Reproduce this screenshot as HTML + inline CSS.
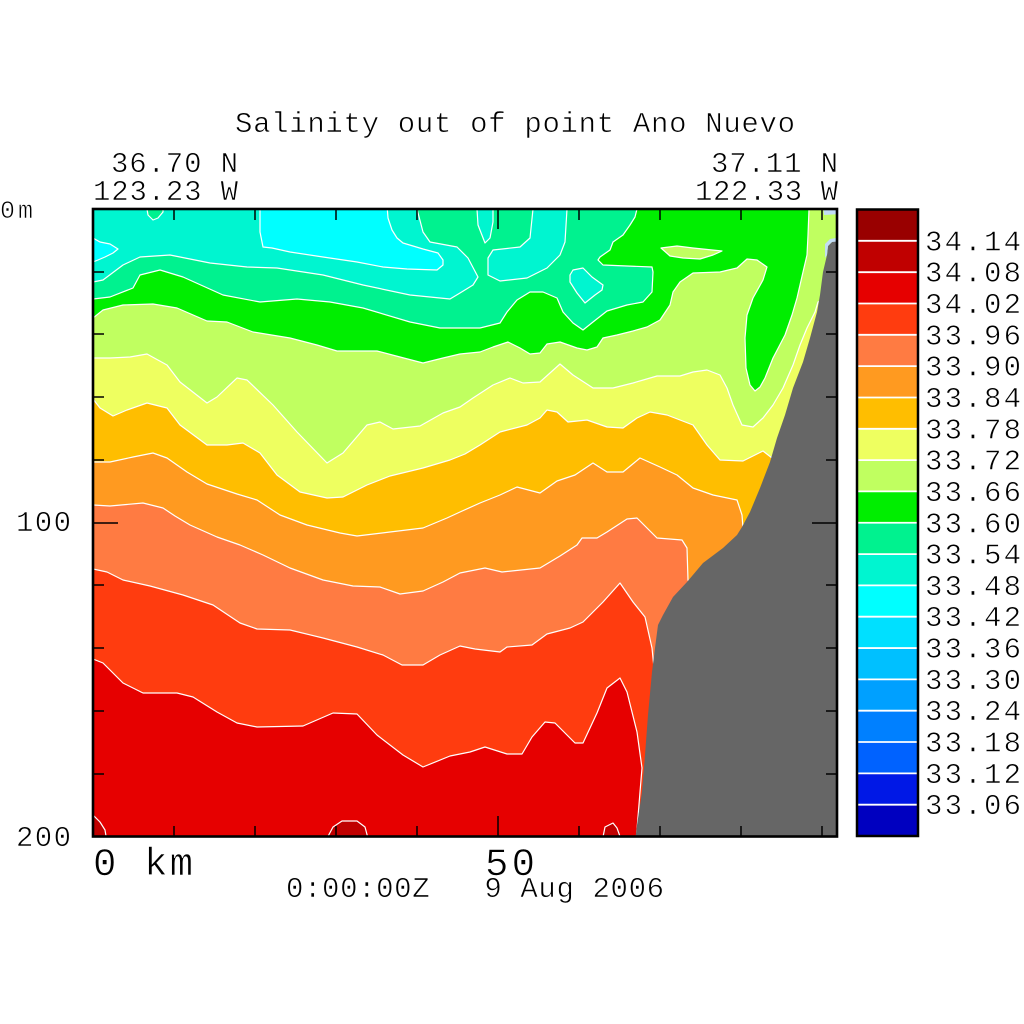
<!DOCTYPE html>
<html>
<head>
<meta charset="utf-8">
<style>
html,body{margin:0;padding:0;background:#fff;}
svg{display:block;}
text{font-family:"Liberation Mono","DejaVu Sans Mono",monospace;fill:#000;stroke:#fff;stroke-width:0.6;}
</style>
</head>
<body>
<svg width="1024" height="1024" viewBox="0 0 1024 1024" xmlns="http://www.w3.org/2000/svg">
<defs>
<clipPath id="pc"><rect x="93" y="209" width="744" height="628"/></clipPath>
</defs>
<rect x="0" y="0" width="1024" height="1024" fill="#fff"/>

<g clip-path="url(#pc)" stroke="#fff" stroke-width="1.2" stroke-linejoin="round">
<rect x="88" y="205" width="760" height="640" fill="#E60000" stroke="none"/>
<polygon fill="#FF3C0F" points="88,205 842,205 842,842 636,842 640,792 642,768 637,732 627,692 620,678 607,688 597,713 583,743 575,743 555,723 545,722 532,737 522,754 507,754 485,747 470,752 450,756 423,767 403,755 377,735 357,714 333,713 303,726 257,727 237,723 217,712 193,697 177,693 143,693 123,683 103,663 93,659 88,658"/>
<polygon fill="#FF7B42" points="88,205 842,205 842,690 680,690 660,680 654,668 652,648 645,617 633,602 620,583 603,602 583,622 570,628 547,634 532,645 507,647 500,652 475,649 460,646 440,655 423,665 402,665 383,655 357,647 323,638 290,630 257,629 240,623 213,605 183,595 150,586 123,580 107,572 93,569 88,569"/>
<polygon fill="#FF9A20" points="88,205 842,205 842,600 700,600 688,580 687,548 682,540 657,538 637,518 627,519 607,532 597,538 582,538 577,545 560,556 540,568 502,572 485,568 460,573 443,582 423,591 400,594 380,587 353,586 323,580 290,568 263,555 240,545 217,537 190,525 175,516 163,508 143,503 110,506 93,505 88,505"/>
<polygon fill="#FFBE00" points="88,205 842,205 842,545 760,545 743,528 742,515 737,500 713,495 693,488 677,475 660,467 640,458 623,472 607,472 593,463 575,475 557,481 540,493 517,487 500,495 480,503 460,512 447,518 423,528 390,532 357,536 340,533 307,525 280,515 257,500 237,494 207,484 187,472 167,458 153,453 133,457 110,462 93,462 88,462"/>
<polygon fill="#EEFF60" points="88,205 842,205 842,470 790,470 772,458 763,451 743,461 720,460 707,445 693,425 667,415 650,412 637,418 623,428 607,427 587,420 568,422 557,412 547,410 540,418 527,425 500,432 480,445 465,454 450,460 423,468 390,476 367,485 343,497 327,498 300,492 277,475 260,453 243,443 227,445 207,445 180,425 167,408 147,403 127,410 113,416 100,408 93,399 88,399"/>
<polygon fill="#C0FF60" points="88,205 842,205 842,290 818,302 815,312 807,328 800,345 793,365 783,388 773,405 763,418 753,427 742,425 733,405 727,388 720,375 707,370 693,372 680,376 657,376 633,383 613,388 593,388 573,375 560,364 540,382 523,383 510,378 493,385 473,398 460,407 443,413 420,426 393,429 380,422 367,425 343,453 327,463 297,432 273,405 247,380 237,378 217,397 207,403 180,382 167,365 147,354 130,357 110,358 93,358 88,358"/>
<polygon fill="#00EE00" points="88,205 809,205 809,209 808,235 807,255 803,272 797,298 792,315 785,335 773,358 765,378 760,387 755,391 750,385 746,368 745,338 747,315 753,298 763,280 767,267 757,260 747,259 737,268 720,272 693,273 680,282 673,292 670,305 660,320 647,327 633,331 617,335 603,338 597,347 587,350 577,348 560,342 547,344 540,353 530,354 520,348 508,342 493,347 480,352 460,354 443,358 423,363 400,357 377,351 337,351 317,345 290,338 253,332 227,322 207,321 177,308 153,304 123,305 103,310 93,318 88,319"/>
<polygon fill="#C0FF60" points="661,248 677,246 693,248 722,251 713,255 700,259 683,258 670,256"/>
<polygon fill="#00F28F" points="88,205 637,205 637,209 635,217 630,225 623,235 613,242 610,250 600,257 598,260 603,265 627,266 652,267 653,272 652,292 643,302 627,305 607,311 593,322 583,330 573,323 563,312 557,298 543,292 530,292 517,300 507,312 500,323 480,328 460,328 440,328 410,322 363,308 330,302 297,299 260,302 223,295 183,277 160,270 140,275 133,288 110,297 93,299 88,300"/>
<polygon fill="#00F5D0" points="88,205 417,205 417,209 423,232 430,242 457,247 468,258 478,277 473,285 460,293 450,299 410,295 363,285 323,275 277,268 247,267 210,263 170,255 140,257 123,265 103,280 93,282 88,282"/>
<polygon fill="#00F5D0" points="477,205 477,209 478,225 485,243 490,238 493,222 493,209 493,205"/>
<polygon fill="#00F5D0" points="533,205 533,209 530,238 520,247 493,250 488,258 488,275 500,281 527,278 547,268 560,255 565,242 567,209 567,205"/>
<polygon fill="#00F5D0" points="570,275 573,270 583,268 592,277 603,285 602,290 595,295 585,303 577,293 570,282"/>
<polygon fill="#00F28F" points="147,205 147,209 148,215 153,220 158,218 163,212 163,209 163,205"/>
<polygon fill="#00FFFF" points="88,238 93,238 100,242 110,244 118,249 113,253 105,257 98,260 93,262 88,262"/>
<polygon fill="#00FFFF" points="260,205 260,232 263,247 272,248 290,252 323,257 357,262 383,267 407,269 437,270 443,265 443,260 438,253 423,249 403,243 397,238 392,230 388,218 387,205"/>
<polygon fill="#C00000" points="88,812 93,815 100,822 105,830 107,842 88,842"/>
<polygon fill="#C00000" points="325,842 333,827 342,821 357,821 365,827 369,842"/>
<polygon fill="#C00000" points="602,842 605,827 613,823 617,828 622,842"/>
<polygon fill="#666666" stroke="none" points="842,238 836,240 832,242 828,246 827,255 823,272 820,295 817,312 810,338 803,362 793,388 785,415 777,438 770,462 760,488 750,512 742,527 737,535 723,548 703,563 687,582 673,597 663,615 658,625 655,648 652,672 648,715 645,755 642,792 637,825 635,842 842,842"/>
<polygon fill="#C2DDF5" stroke="none" points="823,205 842,205 842,214 824,215"/>
<polygon fill="#C2DDF5" stroke="none" points="825,244 830,239 842,237 842,241 832,242 828,246 827,255 825,258"/>
</g>

<g stroke="#000" stroke-width="1.5">
<line x1="174" y1="209" x2="174" y2="220"/><line x1="255" y1="209" x2="255" y2="220"/><line x1="336" y1="209" x2="336" y2="220"/><line x1="417" y1="209" x2="417" y2="220"/><line x1="498" y1="209" x2="498" y2="229"/><line x1="579" y1="209" x2="579" y2="220"/><line x1="660" y1="209" x2="660" y2="220"/><line x1="741" y1="209" x2="741" y2="220"/><line x1="822" y1="209" x2="822" y2="220"/>
<line x1="174" y1="836" x2="174" y2="826"/><line x1="255" y1="836" x2="255" y2="826"/><line x1="336" y1="836" x2="336" y2="826"/><line x1="417" y1="836" x2="417" y2="826"/><line x1="498" y1="836" x2="498" y2="816"/><line x1="579" y1="836" x2="579" y2="826"/><line x1="660" y1="836" x2="660" y2="826"/><line x1="741" y1="836" x2="741" y2="826"/><line x1="822" y1="836" x2="822" y2="826"/>
<line x1="93" y1="272" x2="104" y2="272"/><line x1="93" y1="334" x2="104" y2="334"/><line x1="93" y1="397" x2="104" y2="397"/><line x1="93" y1="460" x2="104" y2="460"/><line x1="93" y1="523" x2="118" y2="523"/><line x1="93" y1="585" x2="104" y2="585"/><line x1="93" y1="648" x2="104" y2="648"/><line x1="93" y1="711" x2="104" y2="711"/><line x1="93" y1="774" x2="104" y2="774"/>
<line x1="837" y1="272" x2="826" y2="272"/><line x1="837" y1="334" x2="826" y2="334"/><line x1="837" y1="397" x2="826" y2="397"/><line x1="837" y1="460" x2="826" y2="460"/><line x1="837" y1="523" x2="812" y2="523"/><line x1="837" y1="585" x2="826" y2="585"/><line x1="837" y1="648" x2="826" y2="648"/><line x1="837" y1="711" x2="826" y2="711"/><line x1="837" y1="774" x2="826" y2="774"/>
</g>
<rect x="93" y="209" width="744" height="627.5" fill="none" stroke="#000" stroke-width="2.6"/>

<g>
<rect x="857" y="209.5" width="61" height="31.4" fill="#990000"/>
<rect x="857" y="240.8" width="61" height="31.4" fill="#C00000"/>
<rect x="857" y="272.2" width="61" height="31.4" fill="#E60000"/>
<rect x="857" y="303.5" width="61" height="31.4" fill="#FF3C0F"/>
<rect x="857" y="334.8" width="61" height="31.4" fill="#FF7B42"/>
<rect x="857" y="366.1" width="61" height="31.4" fill="#FF9A20"/>
<rect x="857" y="397.5" width="61" height="31.4" fill="#FFBE00"/>
<rect x="857" y="428.8" width="61" height="31.4" fill="#EEFF60"/>
<rect x="857" y="460.1" width="61" height="31.4" fill="#C0FF60"/>
<rect x="857" y="491.4" width="61" height="31.4" fill="#00EE00"/>
<rect x="857" y="522.75" width="61" height="31.4" fill="#00F28F"/>
<rect x="857" y="554.1" width="61" height="31.4" fill="#00F5D0"/>
<rect x="857" y="585.4" width="61" height="31.4" fill="#00FFFF"/>
<rect x="857" y="616.7" width="61" height="31.4" fill="#00E0FF"/>
<rect x="857" y="648.05" width="61" height="31.4" fill="#00C0FF"/>
<rect x="857" y="679.4" width="61" height="31.4" fill="#00A0FF"/>
<rect x="857" y="710.7" width="61" height="31.4" fill="#0080FF"/>
<rect x="857" y="742" width="61" height="31.4" fill="#0062FF"/>
<rect x="857" y="773.35" width="61" height="31.4" fill="#0018E6"/>
<rect x="857" y="804.7" width="61" height="31.3" fill="#0000C0"/>
<g stroke="#fff" stroke-width="1.8">
<line x1="858" y1="240.8" x2="917" y2="240.8"/><line x1="858" y1="272.2" x2="917" y2="272.2"/><line x1="858" y1="303.5" x2="917" y2="303.5"/><line x1="858" y1="334.8" x2="917" y2="334.8"/><line x1="858" y1="366.1" x2="917" y2="366.1"/><line x1="858" y1="397.5" x2="917" y2="397.5"/><line x1="858" y1="428.8" x2="917" y2="428.8"/><line x1="858" y1="460.1" x2="917" y2="460.1"/><line x1="858" y1="491.4" x2="917" y2="491.4"/><line x1="858" y1="522.75" x2="917" y2="522.75"/><line x1="858" y1="554.1" x2="917" y2="554.1"/><line x1="858" y1="585.4" x2="917" y2="585.4"/><line x1="858" y1="616.7" x2="917" y2="616.7"/><line x1="858" y1="648.05" x2="917" y2="648.05"/><line x1="858" y1="679.4" x2="917" y2="679.4"/><line x1="858" y1="710.7" x2="917" y2="710.7"/><line x1="858" y1="742" x2="917" y2="742"/><line x1="858" y1="773.35" x2="917" y2="773.35"/><line x1="858" y1="804.7" x2="917" y2="804.7"/>
</g>
<rect x="857" y="209.5" width="61" height="626.5" fill="none" stroke="#000" stroke-width="2.5"/>
</g>

<g font-size="29">
<text x="925" y="250.3" textLength="96" lengthAdjust="spacing">34.14</text>
<text x="925" y="281.7" textLength="96" lengthAdjust="spacing">34.08</text>
<text x="925" y="313" textLength="96" lengthAdjust="spacing">34.02</text>
<text x="925" y="344.3" textLength="96" lengthAdjust="spacing">33.96</text>
<text x="925" y="375.6" textLength="96" lengthAdjust="spacing">33.90</text>
<text x="925" y="407" textLength="96" lengthAdjust="spacing">33.84</text>
<text x="925" y="438.3" textLength="96" lengthAdjust="spacing">33.78</text>
<text x="925" y="469.6" textLength="96" lengthAdjust="spacing">33.72</text>
<text x="925" y="500.9" textLength="96" lengthAdjust="spacing">33.66</text>
<text x="925" y="532.25" textLength="96" lengthAdjust="spacing">33.60</text>
<text x="925" y="563.6" textLength="96" lengthAdjust="spacing">33.54</text>
<text x="925" y="594.9" textLength="96" lengthAdjust="spacing">33.48</text>
<text x="925" y="626.2" textLength="96" lengthAdjust="spacing">33.42</text>
<text x="925" y="657.55" textLength="96" lengthAdjust="spacing">33.36</text>
<text x="925" y="688.9" textLength="96" lengthAdjust="spacing">33.30</text>
<text x="925" y="720.2" textLength="96" lengthAdjust="spacing">33.24</text>
<text x="925" y="751.5" textLength="96" lengthAdjust="spacing">33.18</text>
<text x="925" y="782.85" textLength="96" lengthAdjust="spacing">33.12</text>
<text x="925" y="814.2" textLength="96" lengthAdjust="spacing">33.06</text>
</g>

<text x="235" y="132" font-size="29" textLength="560" lengthAdjust="spacing">Salinity out of point Ano Nuevo</text>
<text x="111" y="172" font-size="29" textLength="127" lengthAdjust="spacing">36.70 N</text>
<text x="93" y="200" font-size="29" textLength="145" lengthAdjust="spacing">123.23 W</text>
<text x="711" y="172" font-size="29" textLength="127" lengthAdjust="spacing">37.11 N</text>
<text x="695" y="200" font-size="29" textLength="143" lengthAdjust="spacing">122.33 W</text>
<text x="0" y="218" font-size="25" textLength="33" lengthAdjust="spacing">0m</text>
<text x="16" y="531" font-size="29" textLength="55" lengthAdjust="spacing">100</text>
<text x="16" y="846" font-size="29" textLength="55" lengthAdjust="spacing">200</text>
<text x="93" y="875" font-size="39" textLength="100" lengthAdjust="spacing">0 km</text>
<text x="485" y="875" font-size="39" textLength="50" lengthAdjust="spacing">50</text>
<text x="286" y="897" font-size="29" textLength="378" lengthAdjust="spacing">0:00:00Z&#160;&#160;&#160;9 Aug 2006</text>
</svg>
</body>
</html>
